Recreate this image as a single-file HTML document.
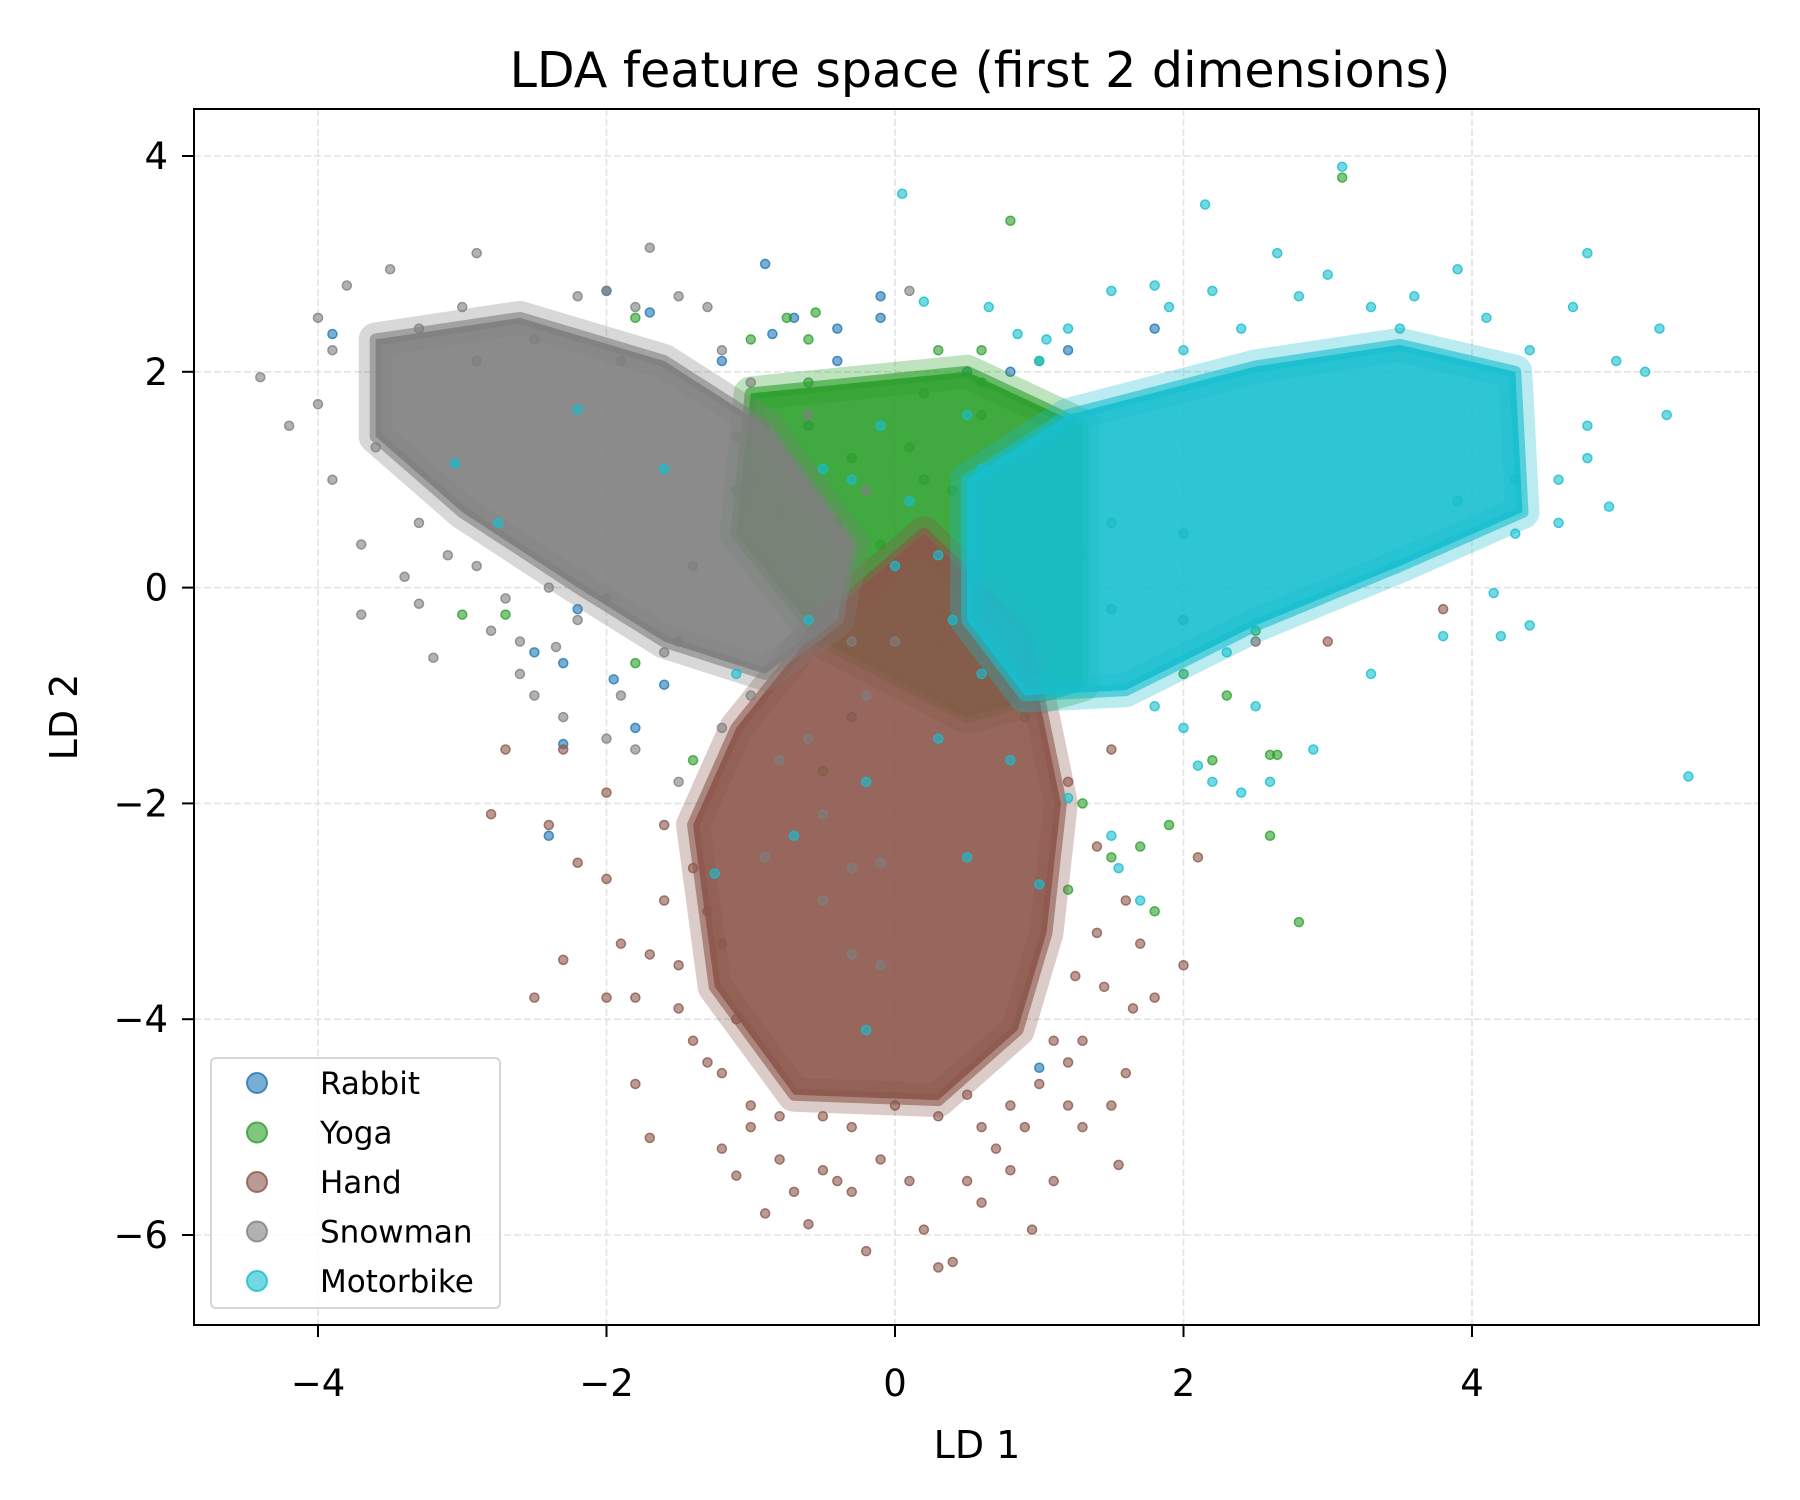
<!DOCTYPE html>
<html><head><meta charset="utf-8"><style>
html,body{margin:0;padding:0;background:#fff;}
svg{display:block;font-family:"DejaVu Sans","Liberation Sans",sans-serif;}
</style></head><body>
<svg id="chart" width="1800" height="1500" viewBox="0 0 1800 1500" xmlns="http://www.w3.org/2000/svg">
<rect width="1800" height="1500" fill="#fff"/>
<text x="980" y="87" font-size="49" text-anchor="middle">LDA feature space (first 2 dimensions)</text>
<text x="977" y="1458" font-size="38" text-anchor="middle">LD 1</text>
<text x="77" y="717" font-size="38" text-anchor="middle" transform="rotate(-90 77 717)">LD 2</text>
<clipPath id="clip"><rect x="194" y="109" width="1565" height="1216"/></clipPath>
<g id="grid"></g>
<g id="marks" clip-path="url(#clip)"></g>
<g id="axes"></g>
<g id="legend"></g>
</svg>
<script>
const xTicks = [-4, -2, 0, 2, 4];
const yTicks = [4, 2, 0, -2, -4, -6];
const seriesNames = ["Rabbit", "Yoga", "Hand", "Snowman", "Motorbike"];
const seriesColors = ["#1f77b4", "#2ca02c", "#8c564b", "#7f7f7f", "#17becf"];

const rabbitPts = [[-2.0,2.75],[-1.7,2.55],[-0.9,3.0],[-0.7,2.5],[-0.4,2.4],[-0.1,2.7],[-0.1,2.5],[0.5,2.0],[1.2,2.2],[1.8,2.4],[-2.5,-0.6],[-2.3,-0.7],[-2.4,-2.3],[-2.3,-1.45],[-1.95,-0.85],[-1.6,-0.9],[-1.5,-0.5],[-1.0,1.0],[-0.5,-0.3],[0.2,1.0],[0.3,-0.5],[-0.3,-1.2],[1.0,-4.45],[1.5,-0.2],[2.0,0.5],[-2.2,-0.2],[-1.8,-1.3],[0.6,1.9],[-0.6,1.5],[1.3,0.3],[-0.85,2.35],[-1.2,2.1],[0.8,2.0],[0.4,-1.0],[-3.9,2.35],[-0.4,2.1]];
const yogaPts = [[0.8,3.4],[3.1,3.8],[-0.75,2.5],[-0.55,2.55],[-1.0,2.3],[-0.6,2.3],[0.3,2.2],[0.6,2.2],[1.0,2.1],[-3.0,-0.25],[-2.7,-0.25],[-1.8,2.5],[2.8,-3.1],[2.6,-2.3],[2.6,-1.55],[2.65,-1.55],[1.8,-3.0],[1.7,-2.4],[1.9,-2.2],[2.2,-1.6],[1.5,-2.5],[1.2,-2.8],[1.3,-2.0],[-1.2,-3.3],[-0.5,-1.7],[2.3,-1.0],[2.0,-0.8],[2.5,-0.4],[4.3,1.0],[1.2,0.1],[0.6,0.5],[-0.3,1.2],[-0.8,0.7],[0.2,1.8],[0.6,1.6],[-0.2,0.0],[-1.4,-1.6],[-1.8,-0.7],[1.5,0.6],[0.9,-1.2],[-0.4,0.6],[0.1,1.3],[-0.9,1.5],[0.4,0.9],[1.1,1.2],[-0.1,0.4],[0.3,-0.2],[-0.6,1.9],[-1.1,0.9],[0.9,0.3]];
const handPts = [[-2.5,-3.8],[-2.3,-3.45],[-2.4,-2.2],[-2.2,-2.55],[-2.0,-2.7],[-1.9,-3.3],[-1.8,-4.6],[-1.7,-5.1],[-1.8,-3.8],[-1.6,-2.9],[-1.5,-3.5],[-1.4,-4.2],[-1.3,-4.4],[-1.2,-5.2],[-1.1,-5.45],[-1.0,-5.0],[-0.9,-5.8],[-0.8,-5.3],[-0.7,-5.6],[-0.6,-5.9],[-0.5,-5.4],[-0.4,-5.5],[-0.3,-5.6],[-0.2,-6.15],[-0.1,-5.3],[0.1,-5.5],[0.2,-5.95],[0.3,-6.3],[0.4,-6.25],[0.5,-5.5],[0.6,-5.7],[0.7,-5.2],[0.8,-5.4],[0.9,-5.0],[0.95,-5.95],[1.1,-5.5],[1.2,-4.8],[1.3,-5.0],[1.5,-4.8],[1.55,-5.35],[1.6,-4.5],[1.8,-3.8],[1.65,-3.9],[2.0,-3.5],[2.1,-2.5],[1.4,-3.2],[1.6,-2.9],[1.3,-4.2],[-2.7,-1.5],[-2.3,-1.5],[-2.0,-1.9],[-1.6,-2.2],[1.2,-1.8],[1.5,-1.5],[2.0,-0.3],[2.5,-0.5],[3.0,-0.5],[3.8,-0.2],[-1.0,-4.8],[0.0,-4.8],[0.5,-4.7],[1.0,-4.6],[-0.5,-4.9],[1.7,-3.3],[-1.7,-3.4],[-2.0,-3.8],[-2.8,-2.1],[-1.1,-4.0],[1.1,-4.2],[0.8,-4.8],[-0.3,-5.0],[0.3,-4.9],[-1.4,-2.6],[1.4,-2.4],[-1.3,-3.0],[1.25,-3.6],[-0.8,-4.9],[0.6,-5.0],[-1.2,-4.5],[1.2,-4.4],[-1.5,-3.9],[1.45,-3.7]];
const snowmanPts = [[-4.4,1.95],[-4.2,1.5],[-4.0,2.5],[-3.9,2.2],[-3.8,2.8],[-3.7,0.4],[-3.7,-0.25],[-3.5,2.95],[-3.4,0.1],[-3.3,-0.15],[-3.2,-0.65],[-2.9,3.1],[-3.0,2.6],[-2.8,-0.4],[-2.6,-0.5],[-2.6,-0.8],[-2.5,-1.0],[-2.3,-1.2],[-2.2,-0.3],[-2.0,-1.4],[-1.9,-1.0],[-1.7,3.15],[-1.8,2.6],[-1.5,2.7],[-1.3,2.6],[-2.2,2.7],[-2.0,2.75],[-1.8,-1.5],[-1.5,-1.8],[-1.2,-1.3],[-1.0,-1.0],[-0.8,-1.6],[-0.5,-2.1],[-0.3,-2.6],[-0.1,-3.5],[-0.9,-2.5],[-0.6,-1.4],[-0.2,-1.0],[0.0,-0.5],[-1.2,2.2],[-1.0,1.9],[-0.6,1.6],[-3.9,1.0],[-3.6,1.3],[-4.0,1.7],[-3.3,0.6],[-2.9,0.2],[-2.4,0.0],[-2.0,-0.1],[-1.6,-0.6],[-2.7,-0.1],[-3.1,0.3],[-0.3,-0.5],[0.1,2.75],[-0.2,0.9],[-0.4,0.5],[-2.35,-0.55],[-1.4,0.2],[-0.7,0.2],[-1.1,1.4],[-2.9,2.1],[-3.3,2.4],[-2.5,2.3],[-1.9,2.1],[-0.1,-2.55],[-0.3,-3.4],[-0.5,-2.9]];
const motorbikePts = [[0.05,3.65],[0.2,2.65],[0.65,2.6],[3.1,3.9],[2.15,3.55],[2.65,3.1],[3.9,2.95],[4.8,3.1],[5.5,-1.75],[5.3,2.4],[5.35,1.6],[5.0,2.1],[5.2,2.0],[4.95,0.75],[4.7,2.6],[4.8,1.5],[4.8,1.2],[4.6,1.0],[4.3,0.5],[4.4,-0.35],[4.6,0.6],[4.15,-0.05],[3.8,-0.45],[3.9,0.8],[4.2,-0.45],[3.6,2.7],[2.8,2.7],[2.2,2.75],[1.8,2.8],[1.9,2.6],[1.5,2.75],[1.2,2.4],[1.05,2.3],[0.85,2.35],[-0.2,-4.1],[-0.7,-2.3],[-1.25,-2.65],[-1.6,1.1],[-2.2,1.65],[-3.05,1.15],[-2.75,0.6],[-1.1,-0.8],[-0.6,-0.3],[-0.3,1.0],[-0.5,1.1],[0.5,-2.5],[1.0,-2.75],[1.55,-2.6],[1.7,-2.9],[1.5,-2.3],[1.2,-1.95],[2.1,-1.65],[2.2,-1.8],[2.4,-1.9],[2.6,-1.8],[2.9,-1.5],[2.0,-1.3],[2.5,-1.1],[3.3,-0.8],[2.3,-0.6],[1.8,-1.1],[0.8,-1.6],[0.3,-1.4],[0.6,-0.8],[-0.2,-1.8],[3.5,2.4],[4.1,2.5],[4.4,2.2],[3.3,2.6],[3.0,2.9],[2.0,2.2],[1.0,2.1],[2.4,2.4],[0.5,1.6],[0.1,0.8],[0.3,0.3],[-0.1,1.5],[0.6,1.1],[0.4,-0.3],[0.0,0.2]];

// dense-core outlines (data coords) for each class
const yogaCore = [[-1.0,1.8],[0.5,2.0],[1.3,1.5],[1.3,-0.9],[0.5,-1.2],[-0.5,-0.5],[-1.1,0.5]];
const handCore = [[-1.1,-1.3],[-0.5,-0.3],[0.2,0.5],[0.9,-0.4],[1.15,-2.0],[1.05,-3.2],[0.85,-4.1],[0.3,-4.75],[-0.7,-4.7],[-1.25,-3.7],[-1.4,-2.2]];
const snowmanCore = [[-3.6,2.3],[-2.6,2.5],[-1.6,2.1],[-0.9,1.5],[-0.3,0.4],[-0.4,-0.3],[-0.9,-0.8],[-1.6,-0.5],[-2.2,0.0],[-3.0,0.7],[-3.6,1.4]];
const motorbikeCore = [[0.5,1.0],[1.2,1.6],[2.5,2.05],[3.5,2.25],[4.3,2.0],[4.35,0.7],[3.5,0.2],[2.5,-0.35],[1.6,-0.95],[0.9,-1.0],[0.5,-0.3]];

const X0 = 895, XS = 144.25, Y0 = 587.6, YS = 107.9;
function sx(v){ return X0 + v*XS; }
function sy(v){ return Y0 - v*YS; }
const NS = "http://www.w3.org/2000/svg";
function mk(tag, attrs, parent){ const e=document.createElementNS(NS,tag); for(const k in attrs) e.setAttribute(k,attrs[k]); parent.appendChild(e); return e; }

const grid = document.getElementById('grid');
const axes = document.getElementById('axes');
const marks = document.getElementById('marks');
const legend = document.getElementById('legend');

xTicks.forEach(t=>{
  const g = mk('line',{x1:sx(t),x2:sx(t),y1:109,y2:1325,stroke:'#e3e3e3','stroke-width':1.6,'stroke-dasharray':'7,3'},grid);
  
  
  const tk = mk('line',{x1:sx(t),x2:sx(t),y1:1325,y2:1337,stroke:'#000','stroke-width':2},axes);
  
  
  const tl = mk('text',{x:sx(t),y:1396,'font-size':37,'text-anchor':'middle'},axes);
  tl.textContent = (t<0?'\u2212':'')+Math.abs(t);
  
  
});
yTicks.forEach(t=>{
  const g = mk('line',{x1:194,x2:1759,y1:sy(t),y2:sy(t),stroke:'#e3e3e3','stroke-width':1.6,'stroke-dasharray':'7,3'},grid);
  
  
  const tk = mk('line',{x1:182,x2:194,y1:sy(t),y2:sy(t),stroke:'#000','stroke-width':2},axes);
  
  
  const tl = mk('text',{x:168,y:sy(t)+13,'font-size':37,'text-anchor':'end'},axes);
  tl.textContent = (t<0?'\u2212':'')+Math.abs(t);
  
  
});

function drawCore(core, color, name){
  const pts = core.map(d=>sx(d[0])+','+sy(d[1])).join(' ');
  const h = mk('polygon',{points:pts,fill:color,'fill-opacity':0.35,stroke:color,'stroke-opacity':0.3,'stroke-width':34,'stroke-linejoin':'round'},marks);
  
  
  const p = mk('polygon',{points:pts,fill:color,'fill-opacity':0.85,stroke:color,'stroke-opacity':0.6,'stroke-width':12,'stroke-linejoin':'round'},marks);
  
  
}
function drawPts(pts, color, name){
  pts.forEach(d=>{
    const c = mk('circle',{cx:sx(d[0]),cy:sy(d[1]),r:4.5,fill:color,'fill-opacity':0.6,stroke:color,'stroke-opacity':0.8,'stroke-width':1.5},marks);
    
    
  });
}
drawPts(rabbitPts, seriesColors[0], 'rabbit-point');
drawCore(yogaCore, seriesColors[1], 'yoga-dense-core');
drawPts(yogaPts, seriesColors[1], 'yoga-point');
drawCore(handCore, seriesColors[2], 'hand-dense-core');
drawPts(handPts, seriesColors[2], 'hand-point');
drawCore(snowmanCore, seriesColors[3], 'snowman-dense-core');
drawPts(snowmanPts, seriesColors[3], 'snowman-point');
drawCore(motorbikeCore, seriesColors[4], 'motorbike-dense-core');
drawPts(motorbikePts, seriesColors[4], 'motorbike-point');

const frame = mk('rect',{x:194,y:109,width:1565,height:1216,fill:'none',stroke:'#000','stroke-width':2},axes);



const lb = mk('rect',{x:211,y:1058,width:289,height:250,rx:5,fill:'#fff','fill-opacity':0.8,stroke:'#d5d5d5','stroke-width':2},legend);


seriesNames.forEach((n,i)=>{
  const y = 1083 + i*49.5;
  const c = mk('circle',{cx:257,cy:y,r:10,fill:seriesColors[i],'fill-opacity':0.6,stroke:seriesColors[i],'stroke-opacity':0.8,'stroke-width':2},legend);
  
  
  const t = mk('text',{x:320,y:y+11,'font-size':31},legend);
  t.textContent = n;
  
  
});
</script>
</body></html>
